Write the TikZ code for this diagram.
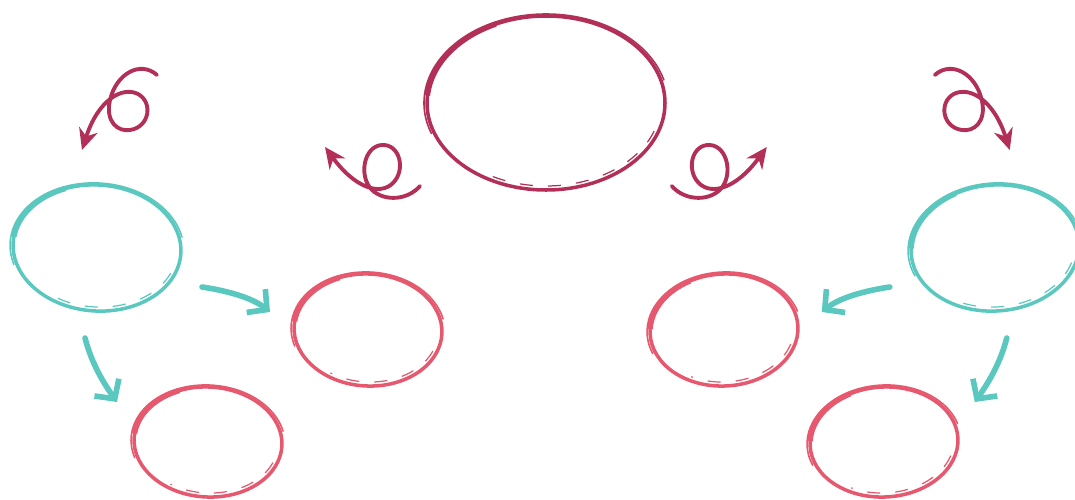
\documentclass[tikz,border=0pt]{standalone}
\usepackage{tikz}
\usetikzlibrary{arrows.meta,calc}
\definecolor{plum}{HTML}{B23058}
\definecolor{aqua}{HTML}{5BC8C0}
\definecolor{rose}{HTML}{E5586E}

\begin{document}
\begin{tikzpicture}[x=0.02cm,y=-0.02cm,
  ring/.style={line width=2pt,line cap=round},
  ringline/.style={line width=0.9pt,line cap=round},
  tealarrow/.style={aqua,line width=3.2pt,line cap=round,-{Straight Barb[length=8pt,width=17pt]}},
  curlarrow/.style={plum,line width=2.2pt,line cap=round,-{Stealth[length=12pt,width=11pt]}}]
  \useasboundingbox (0,0) rectangle (1075,500);
  % sketched rings
  \foreach \cx/\cy/\rx/\ry/\col/\tilt in {546/103/119/87/plum/0, 97/248/84/63/aqua/-4, 995/248/84/63/aqua/4,
      368/330/74/56/rose/-3, 724/330/74/56/rose/3, 208/442/74/55/rose/-3, 884/442/74/55/rose/3}{
    \pgfmathsetmacro\rxa{\rx+3} \pgfmathsetmacro\rya{\ry+2}
    \pgfmathsetmacro\rxb{\rx-4} \pgfmathsetmacro\ryb{\ry-4}
    \begin{scope}[\col,rotate around={\tilt:(\cx,\cy)}]
      \draw[ring] (\cx,\cy) ellipse [x radius=\rx,y radius=\ry];
      \draw[ringline] ($(\cx,\cy)+({\rxa*cos(160)},{\rya*sin(160)})$) arc[start angle=160,end angle=345,x radius=\rxa,y radius=\rya];
      \draw[ringline,line width=0.7pt,dash pattern=on 7pt off 9pt] ($(\cx,\cy)+({\rxb*cos(20)},{\ryb*sin(20)})$) arc[start angle=20,end angle=120,x radius=\rxb,y radius=\ryb];
      \draw[line width=3pt] ($(\cx,\cy)+({\rx*cos(185)},{\ry*sin(185)})$) arc[start angle=185,end angle=245,x radius=\rx,y radius=\ry];
    \end{scope}
  }
  % arrows, left side and its mirror image
  \foreach \side/\off in {1/0cm,-1/21.84cm}{
    \begin{scope}[xshift=\off,xscale=\side]
      \draw[tealarrow] (202,287) .. controls (235,292) and (255,300) .. (270,312);
      \draw[tealarrow] (85,338) .. controls (92,365) and (105,385) .. (117,402);
      \draw[curlarrow] (157,75) .. controls (140,60) and (116,74) .. (110,100)
            .. controls (105,122) and (118,132) .. (130,130)
            .. controls (150,127) and (153,102) .. (138,94)
            .. controls (122,86) and (98,100) .. (82,150);
      \draw[curlarrow] (420,186) .. controls (408,200) and (385,202) .. (372,190)
            .. controls (358,176) and (364,146) .. (382,145)
            .. controls (400,144) and (406,170) .. (393,183)
            .. controls (380,196) and (355,188) .. (325,147);
    \end{scope}
  }
\end{tikzpicture}
\end{document}
